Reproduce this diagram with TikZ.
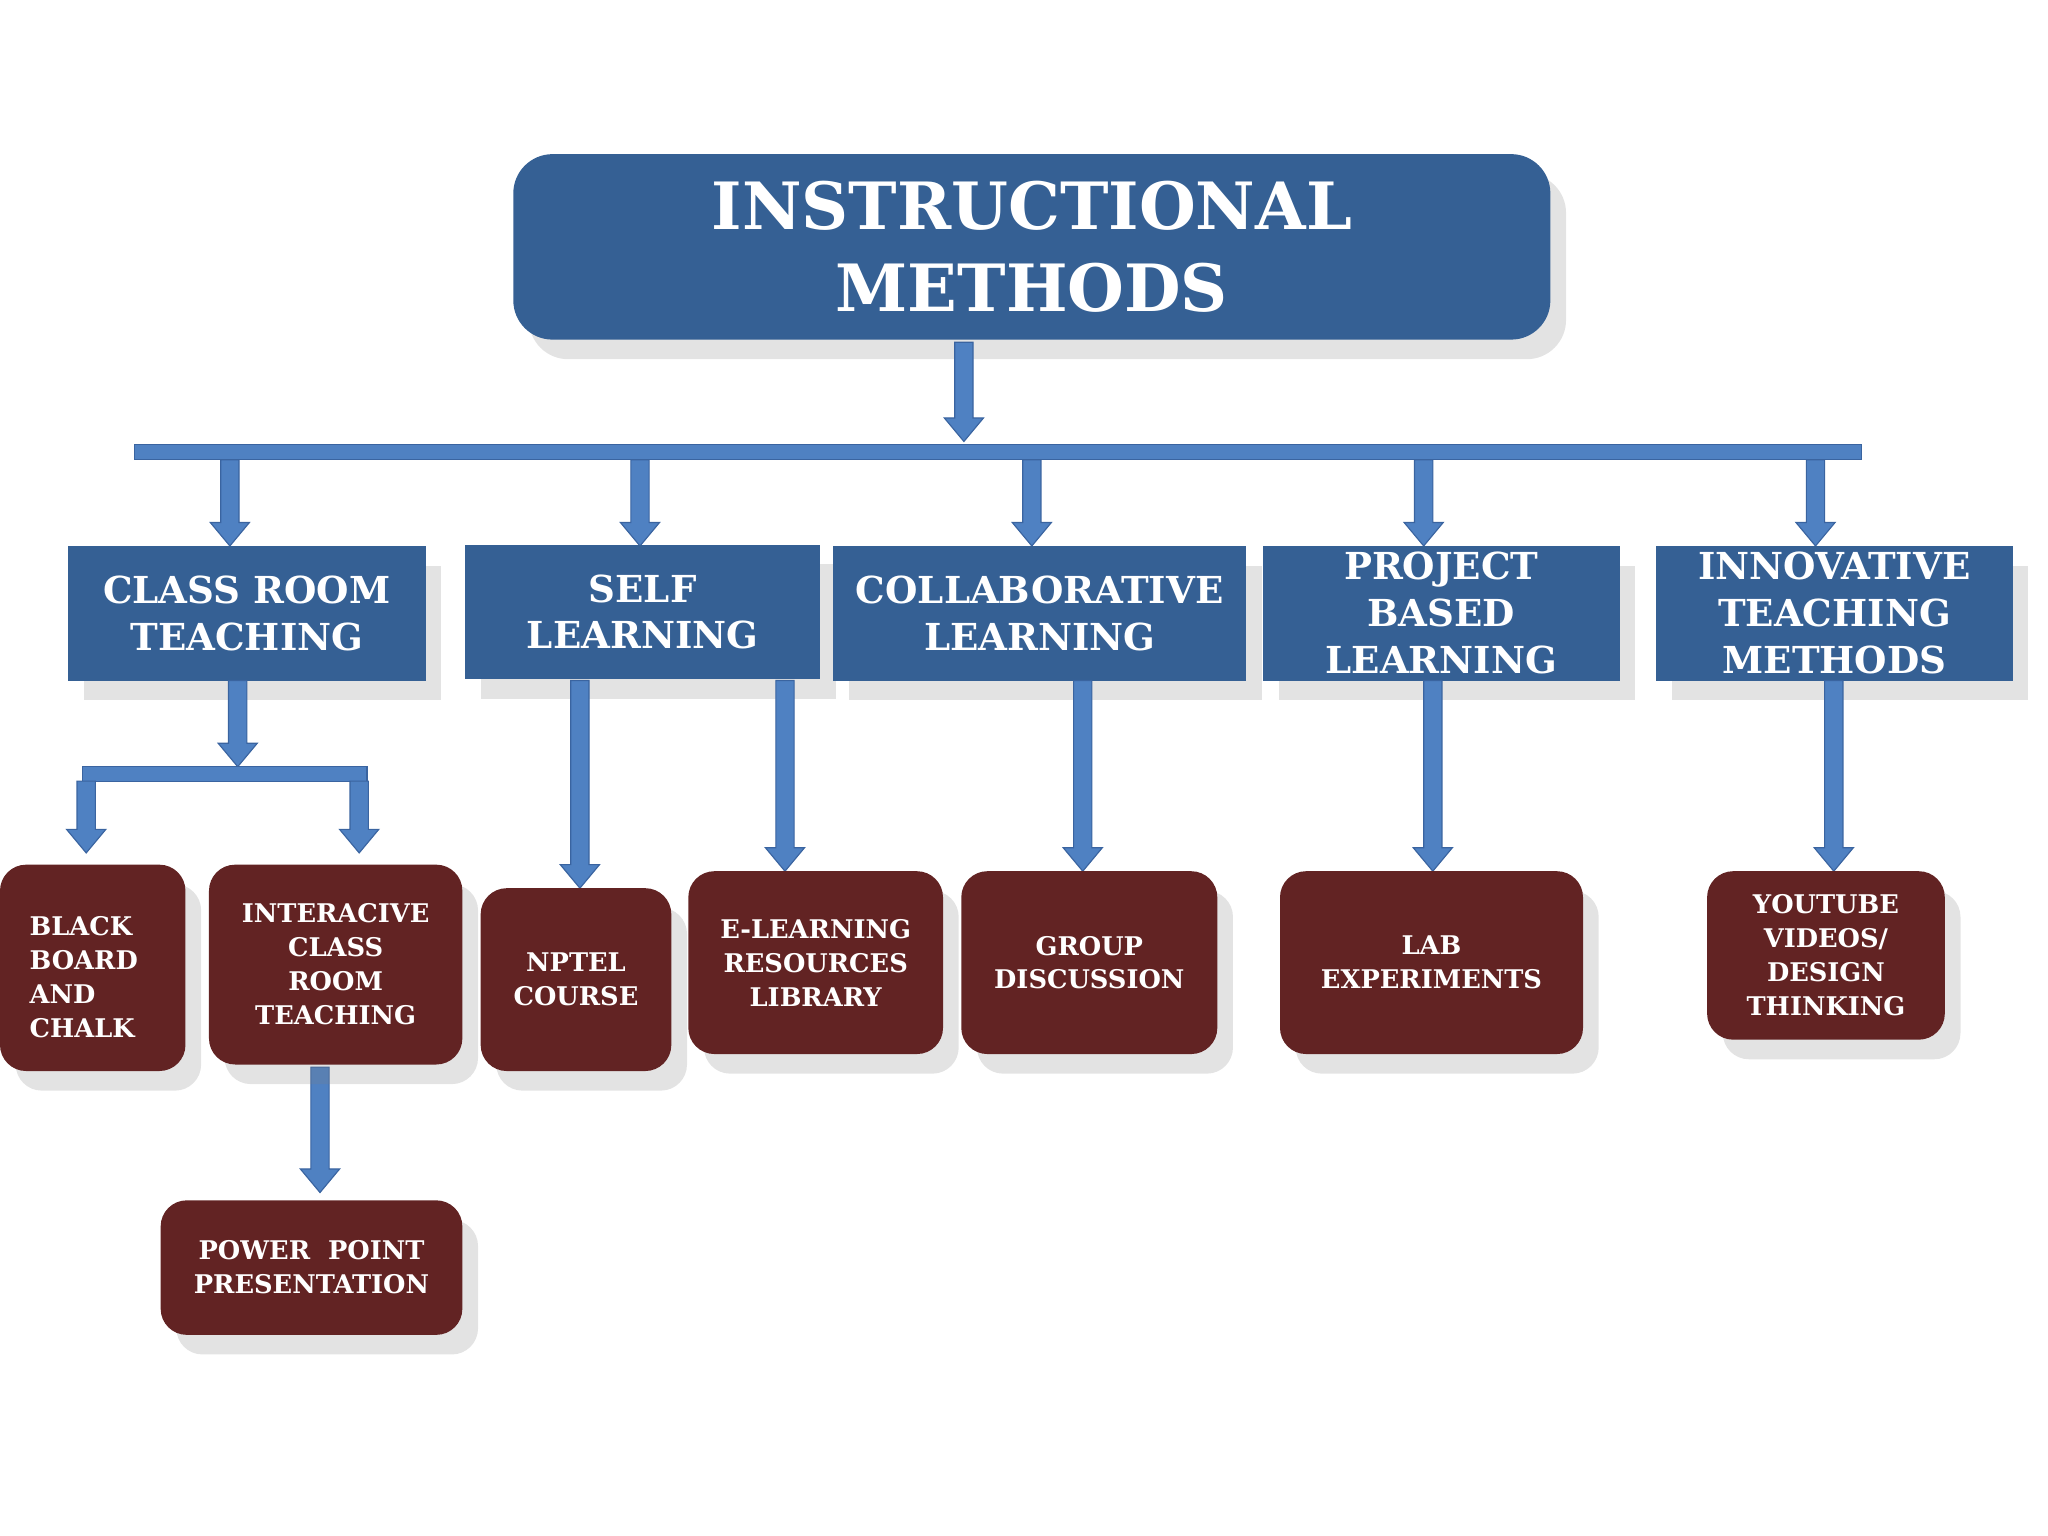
\documentclass[tikz,border=0pt]{standalone}
\usepackage{fontspec}
\setmainfont{DejaVu Serif}
\usetikzlibrary{shadows}
\definecolor{boxblue}{HTML}{356094}
\definecolor{arrblue}{HTML}{4F81C2}
\definecolor{arredge}{HTML}{3A64A0}
\definecolor{boxred}{HTML}{622323}
\tikzset{
 sh/.style={drop shadow={opacity=0.22,shadow xshift=1.2mm,shadow yshift=-1.5mm}},
 lvtwo/.style={fill=boxblue,sh,text=white,font=\bfseries\fontsize{8.1}{10.2}\selectfont,align=center,inner sep=0pt},
 leaf/.style={fill=boxred,sh,rounded corners=2mm,text=white,font=\bfseries\fontsize{5.6}{7.4}\selectfont,align=center,inner sep=0pt},
 blk/.style={fill=arrblue,draw=arredge,line width=0.25pt}
}
\newcommand\varrow[3]{\fill[blk] ({#1-7},#2) -- ({#1+7},#2) -- ({#1+7},{#3-18}) -- ({#1+15},{#3-18}) -- (#1,#3) -- ({#1-15},{#3-18}) -- ({#1-7},{#3-18}) -- cycle;}
\newcommand\bx[5]{\node[#1,minimum width={(#4-#2)*0.1mm},minimum height={(#5-#3)*0.1mm}] at ({(#2+#4)/2},{(#3+#5)/2})}
\begin{document}
\begin{tikzpicture}[x=0.1mm,y=-0.1mm]
\useasboundingbox (0,0) rectangle (1568,1176);
\bx{fill=boxblue,sh,rounded corners=3mm,text=white,font=\bfseries\fontsize{14.2}{18}\selectfont,align=center,inner sep=0pt}{393}{118}{1187}{260} (top) {INSTRUCTIONAL\\METHODS};
\varrow{738}{262}{338}
\fill[blk] (103,340) rectangle (1425,352);
\foreach \x in {176,490,790,1090,1390} {\varrow{\x}{352}{418}}
\bx{lvtwo}{52}{418}{326}{521} (cr) {CLASS ROOM\\TEACHING};
\bx{lvtwo}{356}{417}{628}{520} (sl) {SELF\\LEARNING};
\bx{lvtwo}{638}{418}{954}{521} (cl) {COLLABORATIVE\\LEARNING};
\bx{lvtwo}{967}{418}{1240}{521} (pbl) {PROJECT\\BASED\\LEARNING};
\bx{lvtwo}{1268}{418}{1541}{521} (itm) {INNOVATIVE\\TEACHING\\METHODS};
\varrow{182}{521}{587}
\fill[blk] (63,587) rectangle (281,598);
\varrow{66}{598}{653}
\varrow{275}{598}{653}
\varrow{444}{521}{680}
\varrow{601}{521}{667}
\varrow{829}{521}{667}
\varrow{1097}{521}{667}
\varrow{1404}{521}{667}
\varrow{245}{817}{913}
\bx{leaf}{0}{662}{142}{820} (bb) {};
\node[text=white,font=\bfseries\fontsize{5.6}{7.4}\selectfont,align=left,anchor=west,inner sep=0pt] (bbt) at (22,748) {BLACK\\BOARD\\AND\\CHALK};
\bx{leaf}{160}{662}{354}{815} (icrt) {INTERACIVE\\CLASS\\ROOM\\TEACHING};
\bx{leaf}{368}{680}{514}{820} (np) {NPTEL\\COURSE};
\bx{leaf}{527}{667}{722}{807} (el) {E-LEARNING\\RESOURCES\\LIBRARY};
\bx{leaf}{736}{667}{932}{807} (gd) {GROUP\\DISCUSSION};
\bx{leaf}{980}{667}{1212}{807} (lab) {LAB\\EXPERIMENTS};
\bx{leaf}{1307}{667}{1489}{796} (yt) {YOUTUBE\\VIDEOS/\\DESIGN\\THINKING};
\bx{leaf}{123}{919}{354}{1022} (pp) {POWER\ \ POINT\\PRESENTATION};
\end{tikzpicture}
\end{document}
